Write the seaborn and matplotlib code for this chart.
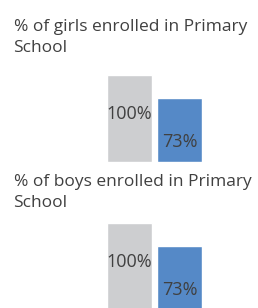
import matplotlib
matplotlib.use("Agg")
import matplotlib.pyplot as plt
import seaborn as sns
import pandas as pd

sns.set_theme(style="white")
plt.rcParams['font.family'] = ['Open Sans', 'DejaVu Sans']

titles = ["% of girls enrolled in Primary\nSchool", "% of boys enrolled in Primary\nSchool"]
categories = ["Target", "Actual"]
girls_values = [100, 73]
boys_values = [100, 73]
label_texts = [["100%", "73%"], ["100%", "73%"]]

colors = ["#CDCED0", "#5589C7"]
text_color = "#404040"

W, H = 258, 308
fig = plt.figure(figsize=(W / 100, H / 100), dpi=100)
fig.patch.set_facecolor("white")

# layout in pixels
panels = [
    dict(values=girls_values, title_base=(31.3, 52.0), bar_bottom=162.0),
    dict(values=boys_values, title_base=(185.7, 206.7), bar_bottom=310.0),
]
bar_h = 87.0
ax_left, ax_right = 107.0, 202.0
label_frac = [0.557, 0.32]

for i, p in enumerate(panels):
    lines = titles[i].split("\n")
    for ln, yb in zip(lines, p["title_base"]):
        fig.text(13.5 / W, 1 - yb / H, ln, ha="left", va="baseline",
                 fontsize=12.5, color=text_color)
    ax = fig.add_axes([ax_left / W, 1 - p["bar_bottom"] / H,
                       (ax_right - ax_left) / W, bar_h / H])
    df = pd.DataFrame({"cat": categories, "val": p["values"]})
    sns.barplot(data=df, x="cat", y="val", hue="cat", palette=colors,
                width=0.89, legend=False, ax=ax, saturation=1)
    ax.set_xlim(-0.45, 1.45)
    ax.set_ylim(0, 100)
    ax.axis("off")
    for j, (v, t) in enumerate(zip(p["values"], label_texts[i])):
        ax.text(j, v * label_frac[j], t,
                ha="center", va="center", fontsize=13, color=text_color)

fig.savefig("out.png", dpi=100, facecolor="white")
